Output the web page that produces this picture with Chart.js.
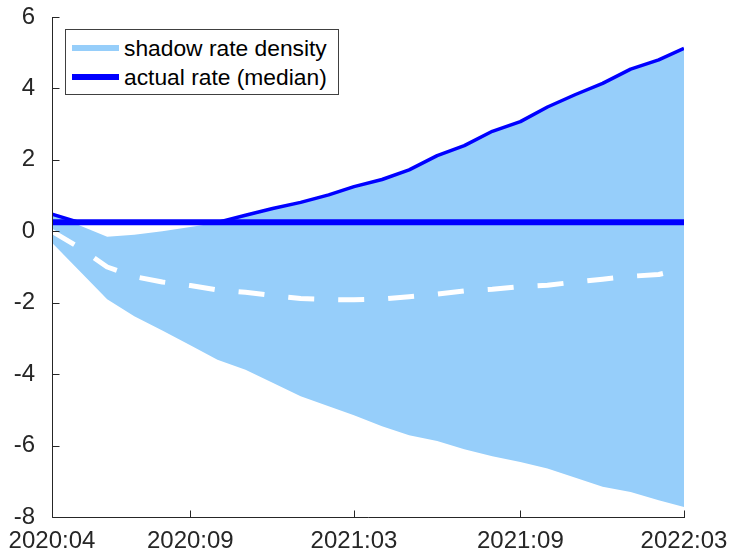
<!DOCTYPE html>
<html>
<head>
<meta charset="utf-8">
<script src="https://cdn.jsdelivr.net/npm/chart.js@4.4.1/dist/chart.umd.min.js"></script>
<style>
  body { margin: 0; background: #fff; }
  #wrap { position: relative; width: 733px; height: 554px; }
  #legend {
    position: absolute; left: 65px; top: 29px; width: 272px; height: 64px;
    border: 1px solid #404040; background: #fff;
    font-family: "Liberation Sans", Arial, sans-serif; font-size: 22.8px; color: #000;
  }
  .item { position: absolute; left: 0; height: 28px; width: 100%; }
  .swatch { position: absolute; left: 6px; width: 47px; height: 6px; }
  .label { position: absolute; left: 58px; white-space: nowrap; line-height: 28px; top: 0; }
</style>
</head>
<body>
<div id="wrap">
  <canvas id="myChart" width="733" height="554"></canvas>
  <div id="legend">
    <div class="item" style="top:4px"><div class="swatch" style="top:11px;background:#96CEFA"></div><span class="label">shadow rate density</span></div>
    <div class="item" style="top:33px"><div class="swatch" style="top:11px;background:#0000FF"></div><span class="label">actual rate (median)</span></div>
  </div>
</div>
<script>
const months = ['2020:04', '2020:05', '2020:06', '2020:07', '2020:08', '2020:09',
  '2020:10', '2020:11', '2020:12', '2021:01', '2021:02', '2021:03',
  '2021:04', '2021:05', '2021:06', '2021:07', '2021:08', '2021:09',
  '2021:10', '2021:11', '2021:12', '2022:01', '2022:02', '2022:03'];

// shadow rate density band
const shadowUpper = [0.48, 0.17, -0.15, -0.10, 0.00, 0.12, 0.24, 0.45, 0.64, 0.81, 1.02, 1.25,
  1.45, 1.72, 2.12, 2.40, 2.80, 3.07, 3.48, 3.83, 4.14, 4.54, 4.80, 5.12];
const shadowLower = [-0.32, -1.10, -1.90, -2.38, -2.78, -3.19, -3.60, -3.88, -4.24, -4.62, -4.90, -5.15,
  -5.46, -5.71, -5.87, -6.10, -6.30, -6.46, -6.64, -6.90, -7.15, -7.30, -7.53, -7.72];
const shadowMedian = [0.00, -0.45, -1.00, -1.27, -1.42, -1.52, -1.64, -1.71, -1.80, -1.88, -1.91, -1.92,
  -1.90, -1.83, -1.76, -1.67, -1.62, -1.55, -1.51, -1.42, -1.34, -1.26, -1.21, -1.05];

// actual rate
const actualUpper = [0.48, 0.25, 0.25, 0.25, 0.25, 0.25, 0.25, 0.45, 0.64, 0.81, 1.02, 1.25,
  1.45, 1.72, 2.12, 2.40, 2.80, 3.07, 3.48, 3.83, 4.14, 4.54, 4.80, 5.12];
const actualMedian = [0.25, 0.25, 0.25, 0.25, 0.25, 0.25, 0.25, 0.25, 0.25, 0.25, 0.25, 0.25,
  0.25, 0.25, 0.25, 0.25, 0.25, 0.25, 0.25, 0.25, 0.25, 0.25, 0.25, 0.25];

const xTickLabels = ['2020:04', '2020:09', '2021:03', '2021:09', '2022:03'];
const yTicks = [-8, -6, -4, -2, 0, 2, 4, 6];

// month label -> day number
function dayOf(m) {
  let p = m.split(':');
  return Date.UTC(+p[0], +p[1] - 1, 1) / 86400000;
}
const xs = months.map(dayOf);
const pts = arr => arr.map((v, i) => ({ x: xs[i], y: v }));

const axisColor = '#262626';
const tickFont = { family: '"Liberation Sans", Arial, sans-serif', size: 24 };

const matlabAxes = {
  id: 'matlabAxes',
  afterDraw(chart) {
    const ctx = chart.ctx;
    const a = chart.chartArea;
    const sx = chart.scales.x, sy = chart.scales.y;
    ctx.save();
    ctx.strokeStyle = axisColor;
    ctx.lineWidth = 1;
    ctx.beginPath();
    let lx = Math.round(a.left) + 0.5;
    let by = Math.round(a.bottom) + 0.5;
    ctx.moveTo(lx, Math.round(a.top));
    ctx.lineTo(lx, by);
    ctx.lineTo(Math.round(a.right) + 1, by);
    yTicks.forEach(v => {
      let py = Math.round(sy.getPixelForValue(v)) + 0.5;
      ctx.moveTo(lx, py);
      ctx.lineTo(lx + 7, py);
    });
    xTickLabels.forEach(m => {
      let px = Math.round(sx.getPixelForValue(dayOf(m))) + 0.5;
      ctx.moveTo(px, by);
      ctx.lineTo(px, by - 7);
    });
    ctx.stroke();
    ctx.restore();
  }
};

new Chart(document.getElementById('myChart'), {
  type: 'line',
  data: {
    datasets: [
      {
        label: 'upper',
        data: pts(shadowUpper),
        borderWidth: 0,
        pointRadius: 0,
        backgroundColor: '#96CEFA',
        fill: '+1',
        order: 5
      },
      {
        label: 'lower',
        data: pts(shadowLower),
        borderWidth: 0,
        pointRadius: 0,
        fill: false,
        order: 4
      },
      {
        label: 'median',
        data: pts(shadowMedian),
        borderColor: '#ffffff',
        borderWidth: 5,
        borderDash: [26, 24],
        pointRadius: 0,
        fill: false,
        order: 3
      },
      {
        label: 'actual upper',
        data: pts(actualUpper),
        borderColor: '#0000ff',
        borderWidth: 3.5,
        pointRadius: 0,
        fill: false,
        order: 2
      },
      {
        label: 'actual rate (median)',
        data: pts(actualMedian),
        borderColor: '#0000ff',
        borderWidth: 6,
        pointRadius: 0,
        fill: false,
        order: 1
      }
    ]
  },
  options: {
    responsive: false,
    devicePixelRatio: 1,
    animation: false,
    layout: { padding: { top: 17, right: 49, left: 0, bottom: 0 } },
    elements: { line: { tension: 0, borderCapStyle: 'butt', borderJoinStyle: 'round' } },
    plugins: { legend: { display: false }, tooltip: { enabled: false } },
    scales: {
      x: {
        type: 'linear',
        min: xs[0],
        max: xs[xs.length - 1],
        grid: { display: false },
        border: { display: false },
        afterBuildTicks: s => { s.ticks = xTickLabels.map(m => ({ value: dayOf(m) })); },
        afterFit: s => { s.height = 37; },
        ticks: {
          autoSkip: false,
          maxRotation: 0,
          padding: 2,
          color: axisColor,
          font: tickFont,
          callback: v => xTickLabels.find(m => dayOf(m) === v)
        }
      },
      y: {
        min: -8,
        max: 6,
        grid: { display: false },
        border: { display: false },
        afterBuildTicks: s => { s.ticks = yTicks.map(v => ({ value: v })); },
        afterFit: s => { s.width = 52; s.paddingTop = 0; s.paddingBottom = 0; },
        ticks: {
          padding: 9,
          color: axisColor,
          font: tickFont
        }
      }
    }
  },
  plugins: [matlabAxes]
});
</script>
</body>
</html>
